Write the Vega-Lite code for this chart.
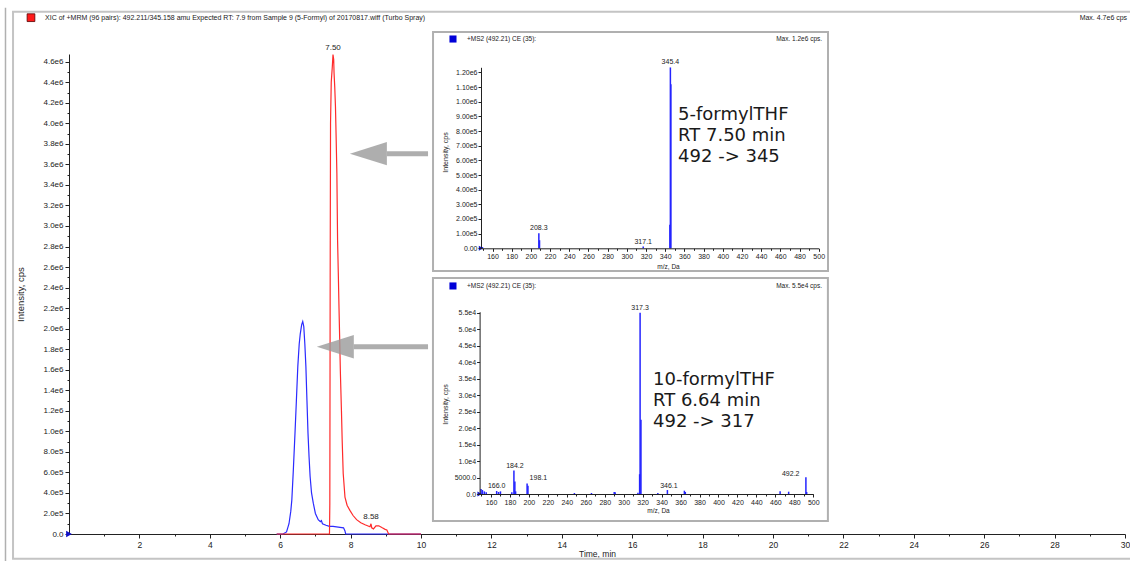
{
 "$schema": "https://vega.github.io/schema/vega-lite/v6.json",
 "width": 1056,
 "height": 480,
 "autosize": {"type": "none"},
 "padding": {"left": 69, "top": 54, "right": 5, "bottom": 27},
 "background": "white",
 "config": {
  "view": {"stroke": null},
  "font": "Liberation Sans",
  "axis": {"grid": false, "labelFont": "Liberation Sans", "titleFont": "Liberation Sans", "domainColor": "#222", "tickColor": "#222", "labelColor": "#222", "titleColor": "#222", "titleFontWeight": "normal", "labelOverlap": false, "labelFlush": false},
  "text": {"font": "Liberation Sans", "color": "#222"}
 },
 "datasets": {
  "xic": [
   {"t": 5.9, "v": 0, "s": "10-formyl"}, {"t": 6.08, "v": 0, "s": "10-formyl"}, {"t": 6.18, "v": 20000, "s": "10-formyl"}, {"t": 6.25, "v": 100000, "s": "10-formyl"}, {"t": 6.30, "v": 220000, "s": "10-formyl"}, {"t": 6.33, "v": 330000, "s": "10-formyl"}, {"t": 6.37, "v": 600000, "s": "10-formyl"}, {"t": 6.42, "v": 980000, "s": "10-formyl"}, {"t": 6.46, "v": 1300000, "s": "10-formyl"}, {"t": 6.50, "v": 1630000, "s": "10-formyl"}, {"t": 6.54, "v": 1850000, "s": "10-formyl"}, {"t": 6.57, "v": 1950000, "s": "10-formyl"}, {"t": 6.61, "v": 2040000, "s": "10-formyl"}, {"t": 6.64, "v": 2070000, "s": "10-formyl"}, {"t": 6.67, "v": 2020000, "s": "10-formyl"}, {"t": 6.70, "v": 1850000, "s": "10-formyl"}, {"t": 6.73, "v": 1630000, "s": "10-formyl"}, {"t": 6.76, "v": 1300000, "s": "10-formyl"}, {"t": 6.79, "v": 980000, "s": "10-formyl"}, {"t": 6.82, "v": 750000, "s": "10-formyl"}, {"t": 6.85, "v": 560000, "s": "10-formyl"}, {"t": 6.89, "v": 400000, "s": "10-formyl"}, {"t": 6.94, "v": 300000, "s": "10-formyl"}, {"t": 7.00, "v": 200000, "s": "10-formyl"}, {"t": 7.08, "v": 140000, "s": "10-formyl"}, {"t": 7.14, "v": 120000, "s": "10-formyl"}, {"t": 7.17, "v": 130000, "s": "10-formyl"}, {"t": 7.20, "v": 100000, "s": "10-formyl"}, {"t": 7.30, "v": 85000, "s": "10-formyl"}, {"t": 7.40, "v": 75000, "s": "10-formyl"}, {"t": 7.50, "v": 75000, "s": "10-formyl"}, {"t": 7.60, "v": 70000, "s": "10-formyl"}, {"t": 7.70, "v": 65000, "s": "10-formyl"}, {"t": 7.80, "v": 60000, "s": "10-formyl"}, {"t": 7.84, "v": 30000, "s": "10-formyl"}, {"t": 7.86, "v": 0, "s": "10-formyl"}, {"t": 10, "v": 0, "s": "10-formyl"},
   {"t": 5.9, "v": 0, "s": "5-formyl"}, {"t": 7.40, "v": 0, "s": "5-formyl"}, {"t": 7.41, "v": 300000, "s": "5-formyl"}, {"t": 7.42, "v": 2500000, "s": "5-formyl"}, {"t": 7.43, "v": 4000000, "s": "5-formyl"}, {"t": 7.45, "v": 4400000, "s": "5-formyl"}, {"t": 7.48, "v": 4550000, "s": "5-formyl"}, {"t": 7.50, "v": 4670000, "s": "5-formyl"}, {"t": 7.52, "v": 4620000, "s": "5-formyl"}, {"t": 7.53, "v": 4490000, "s": "5-formyl"}, {"t": 7.55, "v": 4350000, "s": "5-formyl"}, {"t": 7.57, "v": 4160000, "s": "5-formyl"}, {"t": 7.59, "v": 3850000, "s": "5-formyl"}, {"t": 7.61, "v": 3510000, "s": "5-formyl"}, {"t": 7.63, "v": 2860000, "s": "5-formyl"}, {"t": 7.65, "v": 2550000, "s": "5-formyl"}, {"t": 7.67, "v": 2210000, "s": "5-formyl"}, {"t": 7.69, "v": 1900000, "s": "5-formyl"}, {"t": 7.71, "v": 1570000, "s": "5-formyl"}, {"t": 7.74, "v": 1200000, "s": "5-formyl"}, {"t": 7.76, "v": 920000, "s": "5-formyl"}, {"t": 7.79, "v": 590000, "s": "5-formyl"}, {"t": 7.84, "v": 360000, "s": "5-formyl"}, {"t": 7.90, "v": 280000, "s": "5-formyl"}, {"t": 7.98, "v": 230000, "s": "5-formyl"}, {"t": 8.07, "v": 180000, "s": "5-formyl"}, {"t": 8.17, "v": 140000, "s": "5-formyl"}, {"t": 8.29, "v": 110000, "s": "5-formyl"}, {"t": 8.41, "v": 90000, "s": "5-formyl"}, {"t": 8.55, "v": 70000, "s": "5-formyl"}, {"t": 8.58, "v": 100000, "s": "5-formyl"}, {"t": 8.60, "v": 60000, "s": "5-formyl"}, {"t": 8.65, "v": 50000, "s": "5-formyl"}, {"t": 8.72, "v": 80000, "s": "5-formyl"}, {"t": 8.80, "v": 80000, "s": "5-formyl"}, {"t": 8.90, "v": 60000, "s": "5-formyl"}, {"t": 8.98, "v": 45000, "s": "5-formyl"}, {"t": 9.03, "v": 40000, "s": "5-formyl"}, {"t": 9.08, "v": 0, "s": "5-formyl"}, {"t": 10, "v": 0, "s": "5-formyl"}
  ],
  "xicLabels": [
   {"t": 7.50, "v": 4670000, "label": "7.50"},
   {"t": 8.58, "v": 100000, "label": "8.58"}
  ],
  "arrows": [
   {"tip": 7.98, "base": 9.03, "end": 10.2, "v": 3704000},
   {"tip": 7.04, "base": 8.09, "end": 10.2, "v": 1824000}
  ],
  "ms5": [
   {"mz": 149.5, "I": 9000}, {"mz": 208.3, "I": 102000}, {"mz": 209.0, "I": 55000}, {"mz": 317.1, "I": 12000}, {"mz": 344.9, "I": 160000}, {"mz": 345.4, "I": 1234000}, {"mz": 345.9, "I": 1120000}
  ],
  "ms5Labels": [
   {"mz": 208.3, "I": 102000, "label": "208.3"},
   {"mz": 317.1, "I": 12000, "label": "317.1"},
   {"mz": 345.4, "I": 1234000, "label": "345.4"}
  ],
  "ms10": [
   {"mz": 149.5, "I": 1500}, {"mz": 151, "I": 1200}, {"mz": 153, "I": 800}, {"mz": 155, "I": 500}, {"mz": 166.0, "I": 900}, {"mz": 168, "I": 600}, {"mz": 170, "I": 800}, {"mz": 182, "I": 500}, {"mz": 184.2, "I": 7100}, {"mz": 185.2, "I": 3800}, {"mz": 186, "I": 800}, {"mz": 198.1, "I": 3200}, {"mz": 199, "I": 2500}, {"mz": 248, "I": 300}, {"mz": 266, "I": 300}, {"mz": 290, "I": 600}, {"mz": 291, "I": 500}, {"mz": 315, "I": 400}, {"mz": 316.8, "I": 6000}, {"mz": 317.3, "I": 55000}, {"mz": 318.2, "I": 22500}, {"mz": 336, "I": 300}, {"mz": 346.1, "I": 1200}, {"mz": 364, "I": 1000}, {"mz": 365, "I": 600}, {"mz": 465, "I": 800}, {"mz": 474, "I": 700}, {"mz": 492.2, "I": 5100}, {"mz": 493, "I": 600}
  ],
  "ms10Labels": [
   {"mz": 166.0, "I": 900, "label": "166.0"},
   {"mz": 185.3, "I": 7100, "label": "184.2"},
   {"mz": 210.0, "I": 3300, "label": "198.1"},
   {"mz": 317.3, "I": 55000, "label": "317.3"},
   {"mz": 347.7, "I": 900, "label": "346.1"},
   {"mz": 476.2, "I": 4700, "label": "492.2"}
  ]
 },
 "layer": [
  {
   "layer": [
    {
     "data": {"values": [{}]},
     "mark": {"type": "rect", "fillOpacity": 0, "stroke": "#c4c4c4", "strokeWidth": 2},
     "encoding": {
      "x": {"datum": -1.59, "type": "quantitative", "scale": {"domain": [0, 30], "nice": false, "zero": false}},
      "x2": {"datum": 30.3},
      "y": {"datum": 5087000, "type": "quantitative", "scale": {"domain": [0, 4675000], "nice": false}},
      "y2": {"datum": -240600}
     }
    },
    {
     "data": {"values": [{}]},
     "mark": {"type": "rule", "stroke": "#b0b0b0", "strokeWidth": 1.5},
     "encoding": {
      "x": {"datum": -1.804, "type": "quantitative", "scale": {"domain": [0, 30], "nice": false, "zero": false}},
      "y": {"datum": 5126000, "type": "quantitative", "scale": {"domain": [0, 4675000], "nice": false}},
      "y2": {"datum": -300000}
     }
    },
    {
     "data": {"values": [{}]},
     "mark": {"type": "point", "shape": "square", "filled": true, "size": 60, "fill": "#ff1a1a", "stroke": "#550000", "strokeWidth": 0.8, "opacity": 1},
     "encoding": {
      "x": {"datum": -1.08, "type": "quantitative", "scale": {"domain": [0, 30], "nice": false, "zero": false}},
      "y": {"datum": 5028700, "type": "quantitative", "scale": {"domain": [0, 4675000], "nice": false}}
     }
    },
    {
     "data": {"values": [{}]},
     "mark": {"type": "text", "text": "XIC of +MRM (96 pairs): 492.211/345.158 amu Expected RT: 7.9  from Sample 9 (5-Formyl) of 20170817.wiff (Turbo Spray)", "align": "left", "baseline": "middle", "fontSize": 7},
     "encoding": {
      "x": {"datum": -0.68, "type": "quantitative", "scale": {"domain": [0, 30], "nice": false, "zero": false}},
      "y": {"datum": 5028700, "type": "quantitative", "scale": {"domain": [0, 4675000], "nice": false}}
     }
    },
    {
     "data": {"values": [{}]},
     "mark": {"type": "text", "text": "Max. 4.7e6 cps", "align": "right", "baseline": "middle", "fontSize": 7},
     "encoding": {
      "x": {"datum": 30.06, "type": "quantitative", "scale": {"domain": [0, 30], "nice": false, "zero": false}},
      "y": {"datum": 5028700, "type": "quantitative", "scale": {"domain": [0, 4675000], "nice": false}}
     }
    },
    {
     "data": {"name": "xic"},
     "mark": {"type": "line", "strokeWidth": 1.2, "interpolate": "linear"},
     "encoding": {
      "x": {"field": "t", "type": "quantitative", "scale": {"domain": [0, 30], "nice": false, "zero": false},
       "axis": {"orient": "bottom", "values": [1, 2, 3, 4, 5, 6, 7, 8, 9, 10, 11, 12, 13, 14, 15, 16, 17, 18, 19, 20, 21, 22, 23, 24, 25, 26, 27, 28, 29, 30], "tickCount": 200, "labelExpr": "datum.value % 2 == 0 ? format(datum.value, 'd') : ''", "labelOverlap": false, "tickSize": {"condition": {"test": "datum.value % 2 == 0", "value": 4}, "value": 2}, "labelPadding": 2, "labelFontSize": 8.5, "title": "Time, min", "titleFontSize": 8.5, "titleY": 19, "titleBaseline": "middle", "zindex": 0}},
      "y": {"field": "v", "type": "quantitative", "scale": {"domain": [0, 4675000], "nice": false},
       "axis": {"orient": "left", "values": [0, 100000, 200000, 300000, 400000, 500000, 600000, 700000, 800000, 900000, 1000000, 1100000, 1200000, 1300000, 1400000, 1500000, 1600000, 1700000, 1800000, 1900000, 2000000, 2100000, 2200000, 2300000, 2400000, 2500000, 2600000, 2700000, 2800000, 2900000, 3000000, 3100000, 3200000, 3300000, 3400000, 3500000, 3600000, 3700000, 3800000, 3900000, 4000000, 4100000, 4200000, 4300000, 4400000, 4500000, 4600000], "tickCount": 200, "labelOverlap": false, "labelExpr": "datum.value % 200000 != 0 ? '' : datum.value == 0 ? '0.0' : replace(format(datum.value, '.1e'), 'e+', 'e')", "tickSize": {"condition": {"test": "datum.value % 200000 == 0", "value": 4}, "value": 2}, "labelPadding": 2, "labelFontSize": 8, "title": "Intensity, cps", "titleFontSize": 9.5, "titleX": -49, "titleY": 240, "titleBaseline": "middle", "zindex": 0}},
      "color": {"field": "s", "type": "nominal", "scale": {"domain": ["10-formyl", "5-formyl"], "range": ["#2b2bff", "#ff2b2b"]}, "legend": null}
     }
    },
    {
     "data": {"name": "xicLabels"},
     "mark": {"type": "text", "baseline": "bottom", "align": "center", "dy": -3, "fontSize": 8},
     "encoding": {
      "x": {"field": "t", "type": "quantitative", "scale": {"domain": [0, 30], "nice": false, "zero": false}},
      "y": {"field": "v", "type": "quantitative", "scale": {"domain": [0, 4675000], "nice": false}},
      "text": {"field": "label"}
     }
    },
    {
     "data": {"values": [{}]},
     "mark": {"type": "point", "shape": "triangle-right", "filled": true, "size": 45, "color": "#1010c8", "opacity": 1},
     "encoding": {
      "x": {"datum": 0, "type": "quantitative", "scale": {"domain": [0, 30], "nice": false, "zero": false}},
      "y": {"datum": 0, "type": "quantitative", "scale": {"domain": [0, 4675000], "nice": false}}
     }
    },
    {
     "data": {"name": "arrows"},
     "mark": {"type": "rule", "strokeWidth": 5, "color": "#9a9a9a", "opacity": 0.8},
     "encoding": {
      "x": {"field": "base", "type": "quantitative", "scale": {"domain": [0, 30], "nice": false, "zero": false}},
      "x2": {"field": "end"},
      "y": {"field": "v", "type": "quantitative", "scale": {"domain": [0, 4675000], "nice": false}}
     }
    },
    {
     "data": {"name": "arrows"},
     "mark": {"type": "point", "shape": "M0,0L2,-0.63L2,0.63Z", "filled": true, "size": 1369, "color": "#9a9a9a", "opacity": 0.8, "strokeWidth": 0},
     "encoding": {
      "x": {"field": "tip", "type": "quantitative", "scale": {"domain": [0, 30], "nice": false, "zero": false}},
      "y": {"field": "v", "type": "quantitative", "scale": {"domain": [0, 4675000], "nice": false}}
     }
    }
   ]
  },
  {
   "layer": [
    {
     "data": {"values": [{}]},
     "mark": {"type": "rect", "fill": "white", "stroke": "#b0b0b0", "strokeWidth": 2},
     "encoding": {
      "x": {"datum": 98.0, "type": "quantitative", "scale": {"domain": [148, 500], "range": [412, 749.7], "nice": false, "zero": false}},
      "x2": {"datum": 509.7},
      "y": {"datum": 1475800, "type": "quantitative", "scale": {"domain": [0, 1235000], "range": [194.3, 13.3], "nice": false}},
      "y2": {"datum": -154900}
     }
    },
    {
     "data": {"values": [{}]},
     "mark": {"type": "point", "shape": "square", "filled": true, "size": 50, "color": "#0000d8", "opacity": 1},
     "encoding": {
      "x": {"datum": 118.8, "type": "quantitative", "scale": {"domain": [148, 500], "range": [412, 749.7], "nice": false, "zero": false}},
      "y": {"datum": 1428000, "type": "quantitative", "scale": {"domain": [0, 1235000], "range": [194.3, 13.3], "nice": false}}
     }
    },
    {
     "data": {"values": [{}]},
     "mark": {"type": "text", "text": "+MS2 (492.21) CE (35):", "align": "left", "baseline": "middle", "fontSize": 6.5},
     "encoding": {
      "x": {"datum": 133.4, "type": "quantitative", "scale": {"domain": [148, 500], "range": [412, 749.7], "nice": false, "zero": false}},
      "y": {"datum": 1428000, "type": "quantitative", "scale": {"domain": [0, 1235000], "range": [194.3, 13.3], "nice": false}}
     }
    },
    {
     "data": {"values": [{}]},
     "mark": {"type": "text", "text": "Max. 1.2e6 cps.", "align": "right", "baseline": "middle", "fontSize": 6.5},
     "encoding": {
      "x": {"datum": 503.5, "type": "quantitative", "scale": {"domain": [148, 500], "range": [412, 749.7], "nice": false, "zero": false}},
      "y": {"datum": 1428000, "type": "quantitative", "scale": {"domain": [0, 1235000], "range": [194.3, 13.3], "nice": false}}
     }
    },
    {
     "data": {"name": "ms5"},
     "mark": {"type": "rule", "color": "#2424ff", "strokeWidth": 1.5},
     "encoding": {
      "x": {"field": "mz", "type": "quantitative", "scale": {"domain": [148, 500], "range": [412, 749.7], "nice": false, "zero": false},
       "axis": {"orient": "bottom", "offset": -285.7, "values": [150, 160, 170, 180, 190, 200, 210, 220, 230, 240, 250, 260, 270, 280, 290, 300, 310, 320, 330, 340, 350, 360, 370, 380, 390, 400, 410, 420, 430, 440, 450, 460, 470, 480, 490, 500], "tickCount": 200, "labelExpr": "datum.value % 20 == 0 ? datum.label : ''", "labelOverlap": false, "tickSize": {"condition": {"test": "datum.value % 20 == 0", "value": 3}, "value": 2}, "labelPadding": 1, "labelFontSize": 7, "title": "m/z, Da", "titleFontSize": 6.5, "titleX": 599, "titleY": 18.4, "titleBaseline": "middle", "zindex": 1}},
      "y": {"field": "I", "type": "quantitative", "scale": {"domain": [0, 1235000], "range": [194.3, 13.3], "nice": false},
       "axis": {"orient": "left", "offset": -412, "values": [0, 100000, 200000, 300000, 400000, 500000, 600000, 700000, 800000, 900000, 1000000, 1100000, 1200000], "tickCount": 200, "labelOverlap": false, "labelExpr": "datum.value == 0 ? '0.00' : replace(format(datum.value, '.2e'), 'e+', 'e')", "tickSize": 3, "labelPadding": 1, "labelFontSize": 7, "title": "Intensity, cps", "titleFontSize": 7, "titleX": -36, "titleY": 98, "titleBaseline": "middle", "zindex": 1}},
      "y2": {"datum": 0}
     }
    },
    {
     "data": {"name": "ms5Labels"},
     "mark": {"type": "text", "baseline": "bottom", "align": "center", "dy": -2, "fontSize": 7},
     "encoding": {
      "x": {"field": "mz", "type": "quantitative", "scale": {"domain": [148, 500], "range": [412, 749.7], "nice": false, "zero": false}},
      "y": {"field": "I", "type": "quantitative", "scale": {"domain": [0, 1235000], "range": [194.3, 13.3], "nice": false}},
      "text": {"field": "label"}
     }
    },
    {
     "data": {"values": [{}]},
     "mark": {"type": "text", "text": ["5-formylTHF", "RT 7.50 min", "492 -> 345"], "align": "left", "baseline": "top", "font": "DejaVu Sans", "fontSize": 18, "lineHeight": 21, "color": "#1a1a1a"},
     "encoding": {
      "x": {"datum": 353.4, "type": "quantitative", "scale": {"domain": [148, 500], "range": [412, 749.7], "nice": false, "zero": false}},
      "y": {"datum": 971000, "type": "quantitative", "scale": {"domain": [0, 1235000], "range": [194.3, 13.3], "nice": false}}
     }
    },
    {
     "data": {"values": [{}]},
     "mark": {"type": "point", "shape": "triangle-right", "filled": true, "size": 25, "color": "#1010c8", "opacity": 1},
     "encoding": {
      "x": {"datum": 148, "type": "quantitative", "scale": {"domain": [148, 500], "range": [412, 749.7], "nice": false, "zero": false}},
      "y": {"datum": 0, "type": "quantitative", "scale": {"domain": [0, 1235000], "range": [194.3, 13.3], "nice": false}}
     }
    }
   ]
  },
  {
   "layer": [
    {
     "data": {"values": [{}]},
     "mark": {"type": "rect", "fill": "white", "stroke": "#b0b0b0", "strokeWidth": 2},
     "encoding": {
      "x": {"datum": 98.8, "type": "quantitative", "scale": {"domain": [148, 500], "range": [410.6, 744.3], "nice": false, "zero": false}},
      "x2": {"datum": 515.4},
      "y": {"datum": 65534, "type": "quantitative", "scale": {"domain": [0, 55300], "range": [440, 257.7], "nice": false}},
      "y2": {"datum": -8192}
     }
    },
    {
     "data": {"values": [{}]},
     "mark": {"type": "point", "shape": "square", "filled": true, "size": 50, "color": "#0000d8", "opacity": 1},
     "encoding": {
      "x": {"datum": 119.9, "type": "quantitative", "scale": {"domain": [148, 500], "range": [410.6, 744.3], "nice": false, "zero": false}},
      "y": {"datum": 63107, "type": "quantitative", "scale": {"domain": [0, 55300], "range": [440, 257.7], "nice": false}}
     }
    },
    {
     "data": {"values": [{}]},
     "mark": {"type": "text", "text": "+MS2 (492.21) CE (35):", "align": "left", "baseline": "middle", "fontSize": 6.5},
     "encoding": {
      "x": {"datum": 134.7, "type": "quantitative", "scale": {"domain": [148, 500], "range": [410.6, 744.3], "nice": false, "zero": false}},
      "y": {"datum": 63107, "type": "quantitative", "scale": {"domain": [0, 55300], "range": [440, 257.7], "nice": false}}
     }
    },
    {
     "data": {"values": [{}]},
     "mark": {"type": "text", "text": "Max. 5.5e4 cps.", "align": "right", "baseline": "middle", "fontSize": 6.5},
     "encoding": {
      "x": {"datum": 509.2, "type": "quantitative", "scale": {"domain": [148, 500], "range": [410.6, 744.3], "nice": false, "zero": false}},
      "y": {"datum": 63107, "type": "quantitative", "scale": {"domain": [0, 55300], "range": [440, 257.7], "nice": false}}
     }
    },
    {
     "data": {"name": "ms10"},
     "mark": {"type": "rule", "color": "#2424ff", "strokeWidth": 1.5},
     "encoding": {
      "x": {"field": "mz", "type": "quantitative", "scale": {"domain": [148, 500], "range": [410.6, 744.3], "nice": false, "zero": false},
       "axis": {"orient": "bottom", "offset": -40, "values": [150, 160, 170, 180, 190, 200, 210, 220, 230, 240, 250, 260, 270, 280, 290, 300, 310, 320, 330, 340, 350, 360, 370, 380, 390, 400, 410, 420, 430, 440, 450, 460, 470, 480, 490, 500], "tickCount": 200, "labelExpr": "datum.value % 20 == 0 ? datum.label : ''", "labelOverlap": false, "tickSize": {"condition": {"test": "datum.value % 20 == 0", "value": 3}, "value": 2}, "labelPadding": 1, "labelFontSize": 7, "title": "m/z, Da", "titleFontSize": 6.5, "titleX": 589, "titleY": 16, "titleBaseline": "middle", "zindex": 1}},
      "y": {"field": "I", "type": "quantitative", "scale": {"domain": [0, 55300], "range": [440, 257.7], "nice": false},
       "axis": {"orient": "left", "offset": -410.6, "values": [0, 5000, 10000, 15000, 20000, 25000, 30000, 35000, 40000, 45000, 50000, 55000], "tickCount": 200, "labelOverlap": false, "labelExpr": "datum.value == 0 ? '0.0' : datum.value < 10000 ? format(datum.value, '.1f') : replace(format(datum.value, '.1e'), 'e+', 'e')", "tickSize": 3, "labelPadding": 1, "labelFontSize": 7, "title": "Intensity, cps", "titleFontSize": 7, "titleX": -34.6, "titleY": 350, "titleBaseline": "middle", "zindex": 1}},
      "y2": {"datum": 0}
     }
    },
    {
     "data": {"name": "ms10Labels"},
     "mark": {"type": "text", "baseline": "bottom", "align": "center", "dy": -2, "fontSize": 7},
     "encoding": {
      "x": {"field": "mz", "type": "quantitative", "scale": {"domain": [148, 500], "range": [410.6, 744.3], "nice": false, "zero": false}},
      "y": {"field": "I", "type": "quantitative", "scale": {"domain": [0, 55300], "range": [440, 257.7], "nice": false}},
      "text": {"field": "label"}
     }
    },
    {
     "data": {"values": [{}]},
     "mark": {"type": "text", "text": ["10-formylTHF", "RT 6.64 min", "492 -> 317"], "align": "left", "baseline": "top", "font": "DejaVu Sans", "fontSize": 18, "lineHeight": 21, "color": "#1a1a1a"},
     "encoding": {
      "x": {"datum": 330.9, "type": "quantitative", "scale": {"domain": [148, 500], "range": [410.6, 744.3], "nice": false, "zero": false}},
      "y": {"datum": 37318, "type": "quantitative", "scale": {"domain": [0, 55300], "range": [440, 257.7], "nice": false}}
     }
    },
    {
     "data": {"values": [{}]},
     "mark": {"type": "point", "shape": "triangle-right", "filled": true, "size": 25, "color": "#1010c8", "opacity": 1},
     "encoding": {
      "x": {"datum": 148, "type": "quantitative", "scale": {"domain": [148, 500], "range": [410.6, 744.3], "nice": false, "zero": false}},
      "y": {"datum": 0, "type": "quantitative", "scale": {"domain": [0, 55300], "range": [440, 257.7], "nice": false}}
     }
    }
   ]
  }
 ],
 "resolve": {"scale": {"x": "independent", "y": "independent"}, "axis": {"x": "independent", "y": "independent"}}
}
